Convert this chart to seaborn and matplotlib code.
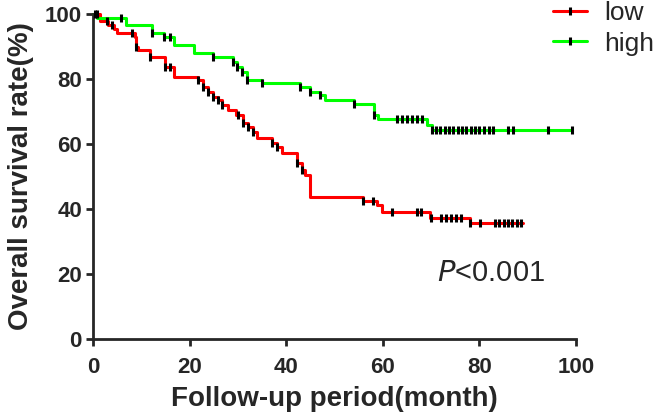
import numpy as np
import pandas as pd
import matplotlib
matplotlib.use('Agg')
import matplotlib.pyplot as plt
import seaborn as sns
from matplotlib.lines import Line2D

# Kaplan-Meier steps: (month, survival %) after each drop
low_time = [0, 1.4, 3.1, 4.4, 5.0, 8.7, 9.0, 9.4, 11.8, 14.9, 16.8, 21.8, 22.8,
            23.9, 24.9, 25.9, 26.8, 27.9, 29.7, 31.0, 32.0, 33.1, 34.0, 37.0,
            38.0, 39.1, 42.2, 43.2, 43.9, 44.9, 56.0, 58.9, 59.8, 69.8, 78.0, 89.1]
low_surv = [100, 97.9, 96.6, 95.3, 94.1, 92.8, 90.0, 88.9, 86.9, 83.8, 80.7, 79.7,
            77.4, 76.1, 74.6, 73.5, 72.0, 70.5, 68.9, 66.4, 65.3, 63.8, 61.8, 60.2,
            59.2, 57.1, 54.1, 52.0, 50.5, 43.8, 42.6, 41.2, 39.2, 37.3, 35.6, 35.6]
low_censor = [0.8, 2.8, 3.9, 8.0, 9.0, 11.8, 14.9, 15.9, 21.8, 22.8, 23.9, 24.9,
              25.9, 26.8, 30.0, 31.0, 32.0, 33.1, 37.0, 38.0, 42.2, 43.2, 56.0,
              58.0, 62.0, 67.0, 68.0, 70.0, 72.0, 73.1, 74.1, 75.1, 76.1, 78.0,
              80.1, 83.2, 84.1, 85.0, 85.9, 86.8, 87.7, 88.6]

high_time = [0, 0.8, 6.8, 12.2, 14.8, 16.8, 21.0, 24.9, 28.9, 29.9, 30.8, 31.8,
             34.9, 42.9, 44.9, 47.0, 48.0, 54.0, 58.2, 59.1, 69.1, 70.1, 99.1]
high_surv = [100, 98.7, 96.6, 94.1, 93.0, 90.5, 87.9, 86.9, 85.3, 83.8, 82.3, 79.7,
             78.7, 77.4, 76.1, 75.1, 73.5, 72.3, 68.9, 67.6, 65.8, 64.4, 64.4]
high_censor = [0.4, 5.9, 12.2, 14.8, 15.9, 24.9, 28.9, 29.9, 30.8, 31.8, 34.9,
               42.9, 44.9, 47.0, 54.0, 58.2, 63.0, 64.0, 65.1, 66.1, 67.1, 68.2,
               70.1, 71.0, 71.9, 72.8, 73.7, 74.6, 75.5, 76.4, 77.3, 78.2, 79.1,
               80.0, 81.0, 81.9, 82.9, 86.0, 87.0, 94.1, 99.1]

groups = ['low', 'high']
colors = {'low': '#ff0000', 'high': '#00ff00'}

sns.set_style('ticks')
plt.rcParams['font.family'] = ['Liberation Sans', 'DejaVu Sans']

curves = pd.concat([
    pd.DataFrame({'month': low_time, 'surv': low_surv, 'group': 'low'}),
    pd.DataFrame({'month': high_time, 'surv': high_surv, 'group': 'high'}),
])


def surv_at(times, surv, cens):
    # value of the step curve at each censoring time
    idx = np.searchsorted(times, cens, side='right') - 1
    return np.array(surv)[idx]


fig = plt.figure(figsize=(6.6, 4.17), dpi=100)
ax = fig.add_axes([93 / 660, 1 - 339 / 417, (576 - 93) / 660, (339 - 14) / 417])

sns.lineplot(data=curves, x='month', y='surv', hue='group', palette=colors,
             drawstyle='steps-post', estimator=None, sort=False, linewidth=2.2,
             legend=False, ax=ax, clip_on=False)

for t, s, c in [(low_time, low_surv, low_censor), (high_time, high_surv, high_censor)]:
    ax.plot(c, surv_at(t, s, c), linestyle='none', marker='|', color='black',
            markersize=5.5, markeredgewidth=2.2, clip_on=False, zorder=4)

ax.set_xlim(0, 100)
ax.set_ylim(0, 100)
ax.set_xticks(range(0, 101, 20))
ax.set_yticks(range(0, 101, 20))
sns.despine(ax=ax)
for side in ['left', 'bottom']:
    ax.spines[side].set_linewidth(2)
ax.tick_params(axis='both', direction='out', length=5, width=2, labelsize=16)
ax.tick_params(axis='x', pad=8)
ax.tick_params(axis='y', pad=3)
for lab in ax.get_xticklabels() + ax.get_yticklabels():
    lab.set_fontweight('bold')

ax.set_xlabel('Follow-up period(month)', fontsize=20, fontweight='bold', labelpad=6)
ax.set_ylabel('Overall survival rate(%)', fontsize=20, fontweight='bold', labelpad=8)

ax.text(71.2, 20.2, r'$\mathit{P}$<0.001', fontsize=21, ha='left', va='center')

handles = [Line2D([0], [0], color=colors[g], lw=2.2, marker='|', markeredgecolor='black',
                  markersize=5.5, markeredgewidth=2.2) for g in groups]
fig.legend(handles, groups, loc='upper left', bbox_to_anchor=(553 / 660, 1 - 1 / 417),
           frameon=False, fontsize=19, handlelength=1.3, handletextpad=0.65,
           labelspacing=0.25, borderpad=0, borderaxespad=0)

fig.savefig('out.png', dpi=100)
